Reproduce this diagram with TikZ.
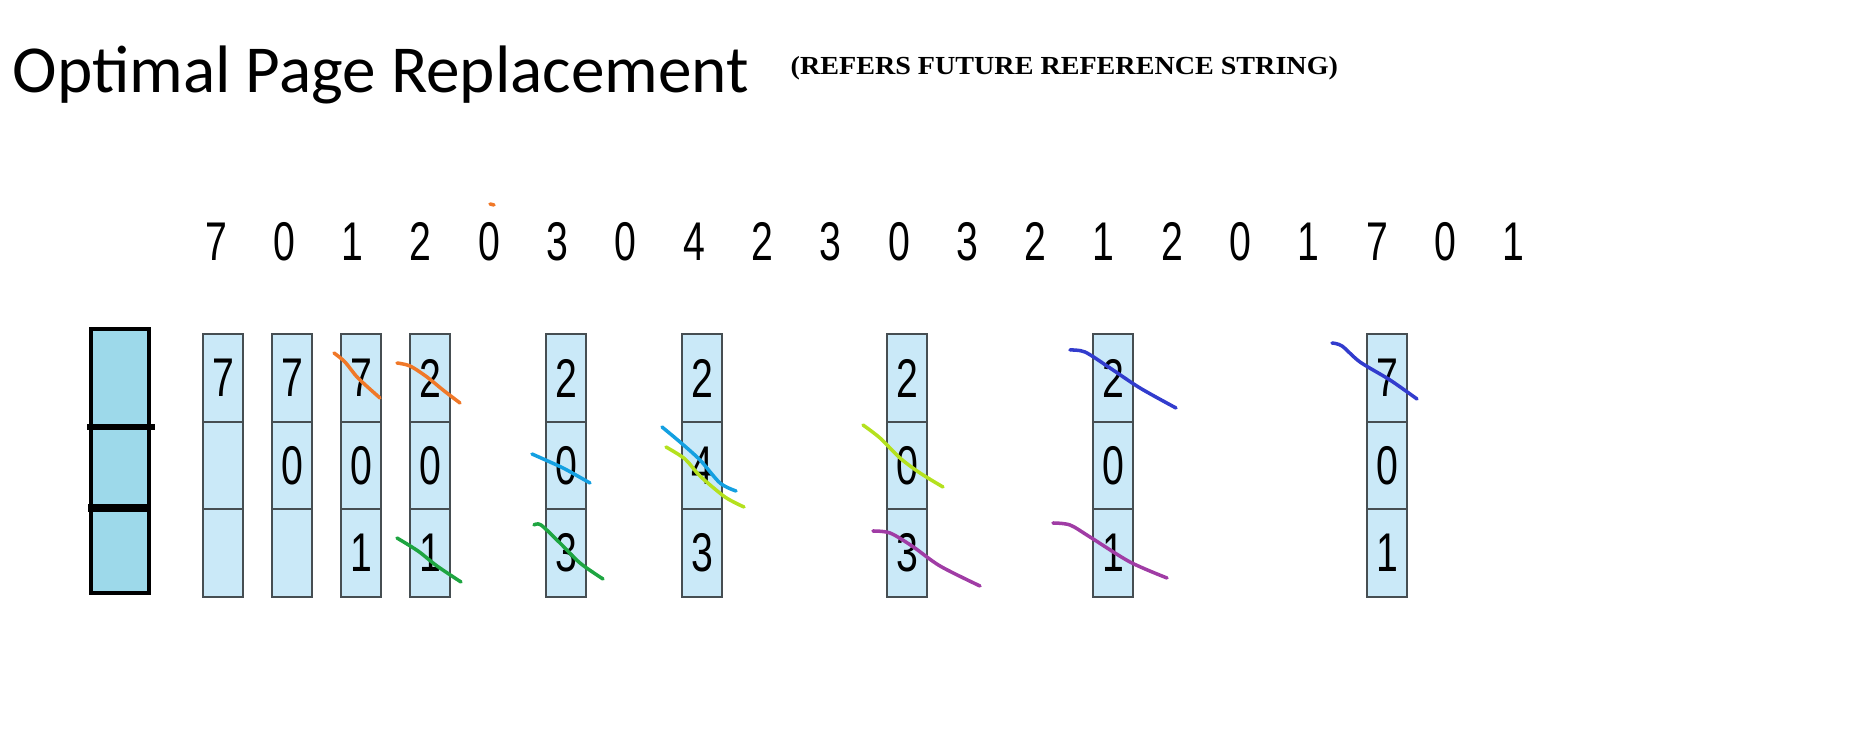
\documentclass[tikz,border=0pt]{standalone}
\usepackage{fontspec}
\setmainfont{Liberation Sans}
\newfontfamily\titlefont{Carlito}
\newfontfamily\notefont[FakeStretch=1.08]{Liberation Serif}
\newfontfamily\digitfont[FakeStretch=0.72]{Liberation Sans}
\usepackage{tikz}

\definecolor{cellblue}{RGB}{202,233,248}
\definecolor{cellline}{RGB}{70,78,82}
\definecolor{framefill}{RGB}{157,217,234}
\definecolor{orangemark}{RGB}{240,120,40}
\definecolor{greenmark}{RGB}{30,165,65}
\definecolor{cyanmark}{RGB}{20,160,225}
\definecolor{limemark}{RGB}{180,225,30}
\definecolor{purplemark}{RGB}{160,60,165}
\definecolor{bluemark}{RGB}{50,60,205}

\begin{document}
\begin{tikzpicture}[x=0.01cm,y=-0.01cm,
  cell/.style={draw=cellline,fill=cellblue,line width=0.6pt,minimum width=0.4cm,minimum height=0.877cm,inner sep=0pt,font=\digitfont\fontsize{15.5}{16}\selectfont},
  refnum/.style={anchor=base,inner sep=0pt,font=\digitfont\fontsize{15.5}{16}\selectfont},
  strike/.style={line width=1pt,line cap=round,line join=round}]

\useasboundingbox (0,0) rectangle (1850,743);

\node[anchor=base west,inner sep=0pt,font=\titlefont\fontsize{19.1}{21}\selectfont] (title) at (12,93) {Optimal Page Replacement};

\node[anchor=base west,inner sep=0pt,font=\notefont\bfseries\fontsize{7.4}{8}\selectfont] (note) at (790,75) {(REFERS FUTURE REFERENCE STRING)};

% reference string
\node[refnum] (s0) at (216,261) {7};
\node[refnum] (s1) at (284.3,261) {0};
\node[refnum] (s2) at (352.6,261) {1};
\node[refnum] (s3) at (420.9,261) {2};
\node[refnum] (s4) at (489.2,261) {0};
\node[refnum] (s5) at (557.5,261) {3};
\node[refnum] (s6) at (625.8,261) {0};
\node[refnum] (s7) at (694.1,261) {4};
\node[refnum] (s8) at (762.4,261) {2};
\node[refnum] (s9) at (830.7,261) {3};
\node[refnum] (s10) at (899,261) {0};
\node[refnum] (s11) at (967.3,261) {3};
\node[refnum] (s12) at (1035.6,261) {2};
\node[refnum] (s13) at (1103.9,261) {1};
\node[refnum] (s14) at (1172.2,261) {2};
\node[refnum] (s15) at (1240.5,261) {0};
\node[refnum] (s16) at (1308.8,261) {1};
\node[refnum] (s17) at (1377.1,261) {7};
\node[refnum] (s18) at (1445.4,261) {0};
\node[refnum] (s19) at (1513.7,261) {1};

% the three frames
\node[draw,line width=1.2pt,fill=framefill,minimum width=0.58cm,minimum height=2.64cm,inner sep=0pt] (frame) at (120,461) {};
\draw[line width=1.7pt] (87,427) -- (155,427);
\draw[line width=2.2pt] (88,508) -- (150,508);

% frame contents after each fault
\node[cell] (f1a) at (223,378) {7};
\node[cell] (f1b) at (223,465.5) {};
\node[cell] (f1c) at (223,553) {};

\node[cell] (f2a) at (292,378) {7};
\node[cell] (f2b) at (292,465.5) {0};
\node[cell] (f2c) at (292,553) {};

\node[cell] (f3a) at (361,378) {7};
\node[cell] (f3b) at (361,465.5) {0};
\node[cell] (f3c) at (361,553) {1};

\node[cell] (f4a) at (430,378) {2};
\node[cell] (f4b) at (430,465.5) {0};
\node[cell] (f4c) at (430,553) {1};

\node[cell] (f5a) at (566,378) {2};
\node[cell] (f5b) at (566,465.5) {0};
\node[cell] (f5c) at (566,553) {3};

\node[cell] (f6a) at (702,378) {2};
\node[cell] (f6b) at (702,465.5) {4};
\node[cell] (f6c) at (702,553) {3};

\node[cell] (f7a) at (907,378) {2};
\node[cell] (f7b) at (907,465.5) {0};
\node[cell] (f7c) at (907,553) {3};

\node[cell] (f8a) at (1113,378) {2};
\node[cell] (f8b) at (1113,465.5) {0};
\node[cell] (f8c) at (1113,553) {1};

\node[cell] (f9a) at (1387,378) {7};
\node[cell] (f9b) at (1387,465.5) {0};
\node[cell] (f9c) at (1387,553) {1};

% pen marks
\draw[strike,orangemark] (490,204) -- (494,205);

\draw[strike,orangemark] plot[smooth] coordinates {(334,353) (345,362) (358,378) (380,398)};

\draw[strike,orangemark] plot[smooth] coordinates {(397,363) (410,366) (427,377) (443,390) (460,403)};

\draw[strike,greenmark] plot[smooth] coordinates {(397,538) (418,551) (437,566) (461,582)};

\draw[strike,cyanmark] plot[smooth] coordinates {(532,454) (550,462) (565,469) (590,483)};

\draw[strike,greenmark] plot[smooth] coordinates {(534,525) (541,525) (560,543) (580,563) (603,579)};

\draw[strike,cyanmark] plot[smooth] coordinates {(662,427) (680,442) (700,460) (720,483) (736,491)};

\draw[strike,limemark] plot[smooth] coordinates {(666,447) (685,459) (700,476) (725,497) (744,507)};

\draw[strike,limemark] plot[smooth] coordinates {(863,425) (880,438) (900,458) (920,473) (943,487)};

\draw[strike,purplemark] plot[smooth] coordinates {(873,531) (890,533) (912,546) (940,566) (980,586)};

\draw[strike,bluemark] plot[smooth] coordinates {(1070,350) (1085,352) (1110,368) (1140,388) (1176,408)};

\draw[strike,purplemark] plot[smooth] coordinates {(1053,523) (1070,525) (1090,537) (1130,562) (1167,578)};

\draw[strike,bluemark] plot[smooth] coordinates {(1332,343) (1342,346) (1360,362) (1390,380) (1417,399)};

\end{tikzpicture}
\end{document}
